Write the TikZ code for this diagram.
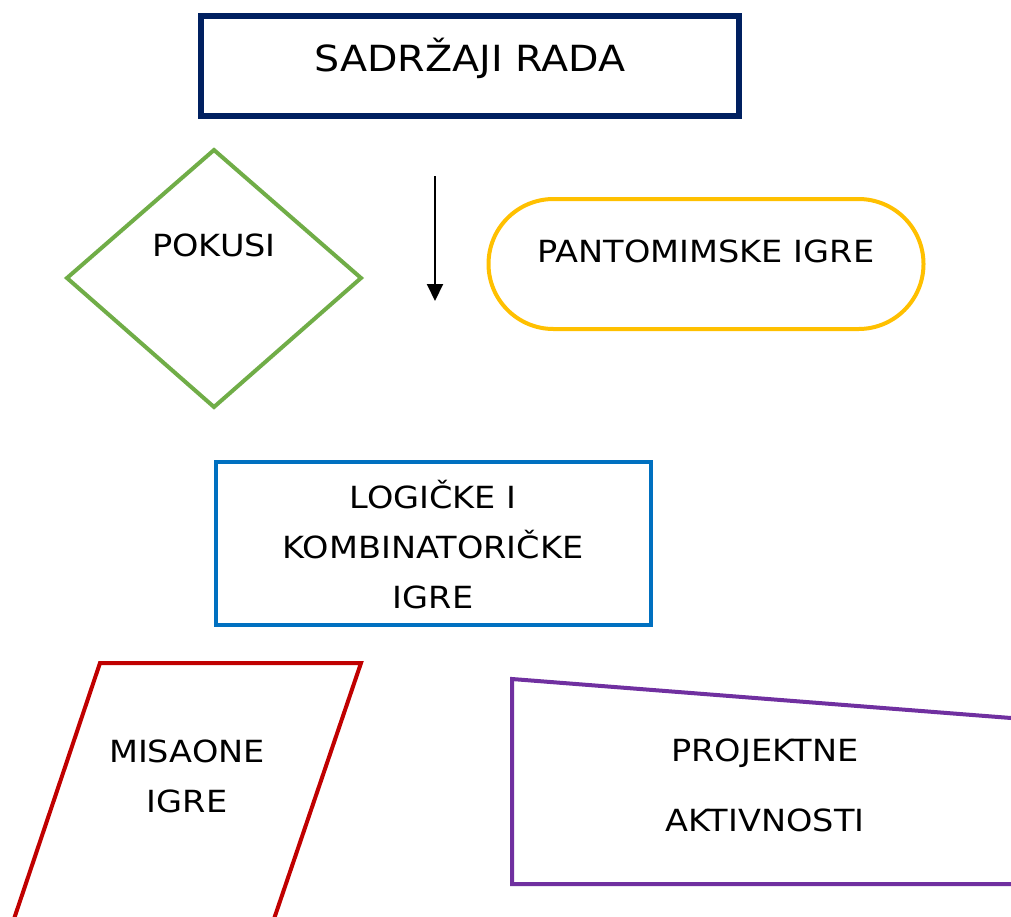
\documentclass[tikz,border=0pt]{standalone}
\usepackage{fontspec}
\setmainfont{DejaVu Sans}[FakeStretch=1.1]
\usetikzlibrary{arrows.meta,shapes.geometric}
\definecolor{navy}{HTML}{002060}
\definecolor{grn}{HTML}{70AD47}
\definecolor{gold}{HTML}{FFC000}
\definecolor{blu}{HTML}{0070C0}
\definecolor{rd}{HTML}{C00000}
\definecolor{purp}{HTML}{7030A0}
\tikzset{
  lbl/.style={align=center, inner sep=0pt, font=\fontsize{30.5}{50}\selectfont},
  shp/.style={line width=4pt, fill=white},
}
\begin{document}
\begin{tikzpicture}[x=1pt,y=-1pt]
\clip (0,0) rectangle (1011,916);
\fill[white] (0,0) rectangle (1011,916);
% title
\node[draw=navy, line width=5.5pt, minimum width=538pt, minimum height=100pt, inner sep=0pt] (title) at (470,66) {};
\node[lbl, font=\fontsize{36}{50}\selectfont] (titletext) at (470,58) {SADRŽAJI RADA};
% diamond
\draw[shp, draw=grn, line join=miter] (214,150) -- (361,278) -- (214,407) -- (67,278) -- cycle;
\node[lbl] (pokusi) at (214,245) {POKUSI};
% stadium
\node[draw=gold, line width=4pt, rounded corners=65pt, minimum width=435pt, minimum height=130pt] (stad) at (706,264) {};
\node[lbl] (panto) at (706,251) {PANTOMIMSKE IGRE};
% arrow
\coordinate (a1) at (435,176);
\coordinate (a2) at (435,301);
\draw[line width=2pt, -{Triangle[length=17pt,width=16pt]}] (a1) -- (a2);
% blue rect
\node[draw=blu, line width=4pt, minimum width=435pt, minimum height=163pt] (logic) at (433,543) {};
\node[lbl] (logictext) at (433,545) {LOGIČKE I\\KOMBINATORIČKE\\IGRE};
% parallelogram
\draw[shp, draw=rd] (100,663) -- (361,663) -- (275,916) -- (275-33.8,1016) -- (15-33.8,1016) -- (15,916) -- cycle;
\node[lbl] (misaone) at (187,776) {MISAONE\\IGRE};
% trapezoid
\draw[shp, draw=purp] (512,679) -- (1011,718) -- (1060,722) -- (1060,884) -- (512,884) -- cycle;
\node[lbl, font=\fontsize{30.5}{70}\selectfont] (projekt) at (765,785) {PROJEKTNE\\AKTIVNOSTI};
\end{tikzpicture}
\end{document}
